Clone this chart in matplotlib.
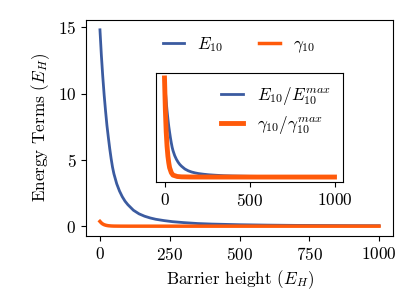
import matplotlib
matplotlib.use("Agg")
import matplotlib.pyplot as plt
import numpy as np

plt.rcParams['font.family'] = 'serif'
plt.rcParams['font.serif'] = ['cmr10']
plt.rcParams['mathtext.fontset'] = 'cm'
plt.rcParams['axes.formatter.use_mathtext'] = True
plt.rcParams['font.size'] = 12.3

# Data
barrier = [0, 5, 10, 15, 20, 25, 30, 35, 40, 45, 50, 60, 70, 80, 90, 100,
           120, 140, 160, 180, 200, 230, 260, 300, 350, 400, 500, 600, 700,
           800, 900, 1000]
E10 = [14.8, 12.9, 11.3, 9.9, 8.7, 7.6, 6.7, 5.85, 5.1, 4.45, 3.95, 3.2,
       2.65, 2.22, 1.88, 1.62, 1.2, 0.93, 0.75, 0.62, 0.52, 0.42, 0.34,
       0.27, 0.2, 0.16, 0.11, 0.08, 0.06, 0.05, 0.04, 0.035]

barrier_g = [0, 5, 10, 15, 20, 25, 30, 40, 50, 75, 100, 150, 200, 300, 400,
             500, 600, 800, 1000]
gamma10 = [0.36, 0.245, 0.165, 0.112, 0.076, 0.052, 0.034, 0.016, 0.007,
           0.002, 0.0007, 0.0002, 0.0001, 0.0, 0.0, 0.0, 0.0, 0.0, 0.0]

blue = '#3b5ba0'
orange = '#ff5a0a'

fig = plt.figure(figsize=(4.15, 3.05), dpi=100)
ax = fig.add_axes([86/415, 1-236/305, (393-86)/415, (236-20)/305])
ax.plot(barrier, E10, color=blue, lw=2, label=r'$E_{10}$')
ax.plot(barrier_g, gamma10, color=orange, lw=2.5, label=r'$\gamma_{10}$')
ax.set_xticks([0, 250, 500, 750, 1000])
ax.set_yticks([0, 5, 10, 15])
ax.set_xlabel(r'Barrier height ($E_H$)')
ax.set_ylabel(r'Energy Terms ($E_H$)')
ax.legend(ncol=2, frameon=False, loc='upper center', bbox_to_anchor=(0.5, 1.0),
          handlelength=1.2, columnspacing=2.1)

E_arr = np.array(E10)
g_arr = np.array(gamma10)
ins = fig.add_axes([156/415, 1-182/305, (343-156)/415, (182-73)/305])
ins.plot(barrier, E_arr / E_arr.max(), color=blue, lw=2,
         label=r'$E_{10}/E_{10}^{max}$')
ins.plot(barrier_g, g_arr / g_arr.max(), color=orange, lw=3.5,
         label=r'$\gamma_{10}/\gamma_{10}^{max}$')
ins.set_yticks([])
ins.set_xticks([0, 500, 1000])
ins.legend(frameon=False, loc='upper right', handlelength=1.3,
           borderaxespad=0.3, labelspacing=0.4)

fig.savefig('out.png', dpi=100)
